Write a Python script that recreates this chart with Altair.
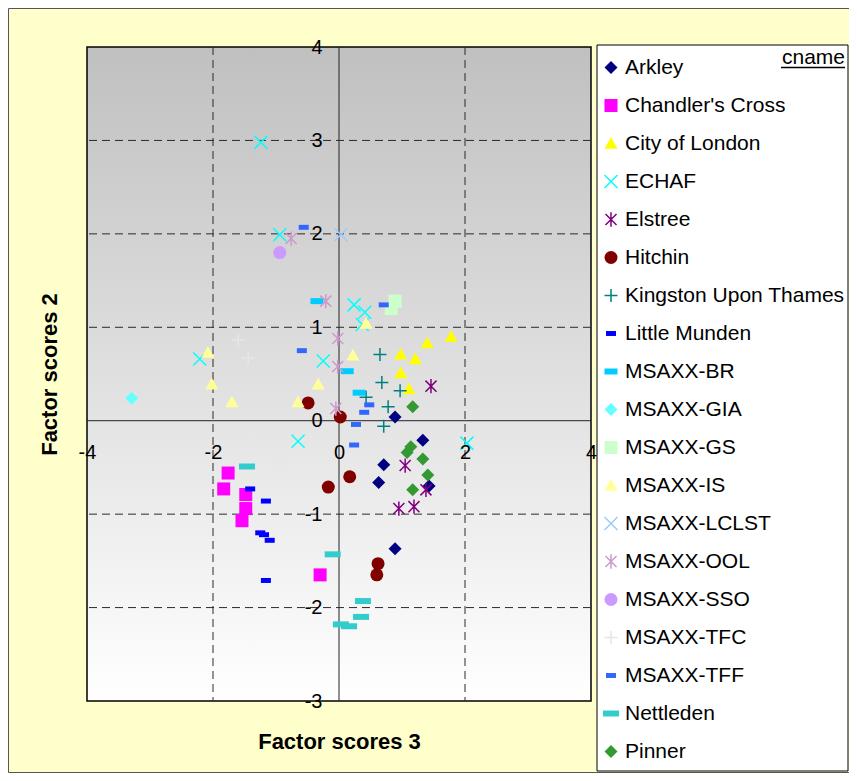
import altair as alt
import pandas as pd

# ---------------- data ----------------
series = ["Arkley", "Chandler's Cross", "City of London", "ECHAF", "Elstree",
          "Hitchin", "Kingston Upon Thames", "Little Munden", "MSAXX-BR",
          "MSAXX-GIA", "MSAXX-GS", "MSAXX-IS", "MSAXX-LCLST", "MSAXX-OOL",
          "MSAXX-SSO", "MSAXX-TFC", "MSAXX-TFF", "Nettleden", "Pinner"]

arkley_x = [0.89, 1.33, 0.71, 0.63, 1.43, 0.89]
arkley_y = [0.04, -0.21, -0.47, -0.66, -0.70, -1.37]
chandlers_x = [-1.76, -1.83, -1.48, -1.48, -1.54, -0.30]
chandlers_y = [-0.56, -0.73, -0.79, -0.94, -1.07, -1.65]
city_x = [1.78, 1.40, 0.98, 1.21, 0.98, 1.11]
city_y = [0.90, 0.83, 0.71, 0.66, 0.51, 0.34]
echaf_x = [-1.24, -0.94, -2.21, -0.25, 0.24, 0.41, 0.37, -0.65, 2.03]
echaf_y = [2.98, 1.99, 0.66, 0.64, 1.24, 1.16, 1.03, -0.22, -0.24]
elstree_x = [1.46, 1.05, 1.38, 0.95, 1.19]
elstree_y = [0.37, -0.48, -0.74, -0.94, -0.92]
hitchin_x = [-0.49, 0.02, -0.17, 0.17, 0.62, 0.60]
hitchin_y = [0.19, 0.04, -0.71, -0.60, -1.53, -1.65]
kingston_x = [0.65, 0.68, 0.97, 0.43, 0.78, 0.71]
kingston_y = [0.71, 0.41, 0.32, 0.25, 0.15, -0.06]
munden_x = [-1.41, -1.16, -1.25, -1.19, -1.10, -1.16]
munden_y = [-0.73, -0.86, -1.20, -1.22, -1.28, -1.71]
br_x = [-0.35, 0.13, 0.32]
br_y = [1.28, 0.53, 0.30]
gia_x = [-3.29]
gia_y = [0.24]
gs_x = [0.89, 0.83]
gs_y = [1.28, 1.20]
is_x = [-2.08, -2.02, -1.70, -0.65, -0.33, 0.22, 0.43]
is_y = [0.73, 0.39, 0.20, 0.20, 0.39, 0.70, 1.04]
lclst_x = [0.03]
lclst_y = [1.99]
ool_x = [-0.76, -0.21, -0.02, -0.02, -0.05]
ool_y = [1.95, 1.28, 0.88, 0.58, 0.13]
sso_x = [-0.94]
sso_y = [1.80]
tfc_x = [-1.60, -1.44, -0.94]
tfc_y = [0.86, 0.67, -0.45]
tff_x = [-0.56, -0.59, 0.71, 0.48, 0.40, 0.27, 0.24]
tff_y = [2.07, 0.75, 1.24, 0.17, 0.09, -0.04, -0.26]
nettleden_x = [-1.46, -0.10, 0.38, 0.35, 0.03, 0.16]
nettleden_y = [-0.49, -1.43, -1.93, -2.10, -2.18, -2.20]
pinner_x = [1.17, 1.14, 1.08, 1.33, 1.41, 1.17]
pinner_y = [0.15, -0.28, -0.34, -0.41, -0.58, -0.74]

x_ticks = [-4, -2, 0, 2, 4]
y_ticks = [-3, -2, -1, 0, 1, 2, 3, 4]

point_lists = [
    (arkley_x, arkley_y), (chandlers_x, chandlers_y), (city_x, city_y),
    (echaf_x, echaf_y), (elstree_x, elstree_y), (hitchin_x, hitchin_y),
    (kingston_x, kingston_y), (munden_x, munden_y), (br_x, br_y),
    (gia_x, gia_y), (gs_x, gs_y), (is_x, is_y), (lclst_x, lclst_y),
    (ool_x, ool_y), (sso_x, sso_y), (tfc_x, tfc_y), (tff_x, tff_y),
    (nettleden_x, nettleden_y), (pinner_x, pinner_y),
]
rows = []
for name, (xs_, ys_) in zip(series, point_lists):
    for a, b in zip(xs_, ys_):
        rows.append({"cname": name, "x": a, "y": b})
df = pd.DataFrame(rows)

# ---------------- style ----------------
FONT = "Liberation Sans"
X_PATH = "M-1,-1L1,1M-1,1L1,-1"
AST_PATH = "M-0.85,-0.85L0.85,0.85M-0.85,0.85L0.85,-0.85M0,-1.1L0,1.1"
PLUS_PATH = "M-1,0L1,0M0,-1L0,1"
TRI_PATH = "M0,-1L1,0.8L-1,0.8Z"
SMALL_DASH = "M-0.77,-0.38L0.77,-0.38L0.77,0.38L-0.77,0.38Z"
MID_DASH = "M-1,-0.46L1,-0.46L1,0.46L-1,0.46Z"
LONG_DASH = "M-1.23,-0.46L1.23,-0.46L1.23,0.46L-1.23,0.46Z"

colors = ["#000080", "#FF00FF", "#FFFF00", "#00FFFF", "#800080", "#800000",
          "#008080", "#0000FF", "#00CCFF", "#66FFFF", "#CCFFCC", "#FFFF99",
          "#99CCFF", "#CC99CC", "#CC99FF", "#E6E6E6", "#3366FF", "#33CCCC",
          "#339933"]
shapes = ["diamond", "square", TRI_PATH, X_PATH, AST_PATH, "circle",
          PLUS_PATH, SMALL_DASH, MID_DASH, "diamond", "square", TRI_PATH,
          X_PATH, AST_PATH, "circle", PLUS_PATH, SMALL_DASH, LONG_DASH,
          "diamond"]
open_shape = [s in (X_PATH, AST_PATH, PLUS_PATH) for s in shapes]
fills = ["transparent" if o else c for c, o in zip(colors, open_shape)]
strokes = [c if o else "transparent" for c, o in zip(colors, open_shape)]

W, H = 504, 654
xmin, xmax = x_ticks[0], x_ticks[-1]
ymin, ymax = y_ticks[0], y_ticks[-1]
xs = alt.Scale(domain=[xmin, xmax], nice=False, zero=False)
ys = alt.Scale(domain=[ymin, ymax], nice=False, zero=False)

x_offset = -H * (0 - ymin) / (ymax - ymin)
y_offset = -W * (0 - xmin) / (xmax - xmin)

x_axis = alt.Axis(values=x_ticks, orient="bottom", offset=x_offset, zindex=1,
                  domain=False, ticks=False, grid=False, tickSize=0,
                  labelExpr="'' + datum.value", labelFont=FONT,
                  labelFontSize=20, labelColor="black", labelPadding=22,
                  labelFlush=False, labelOverlap=False,
                  title="Factor scores 3", titleFont=FONT, titleFontSize=22,
                  titleFontWeight="bold", titleColor="black",
                  titleX=W / 2, titleY=328, titleBaseline="alphabetic",
                  titleAlign="center")
y_axis = alt.Axis(values=y_ticks, orient="left", offset=y_offset, zindex=1,
                  domain=False, ticks=False, grid=False, tickSize=0,
                  labelExpr="'' + datum.value", labelFont=FONT,
                  labelFontSize=20, labelColor="black", labelPadding=17,
                  labelFlush=False, labelOverlap=False,
                  title="Factor scores 2", titleFont=FONT, titleFontSize=22,
                  titleFontWeight="bold", titleColor="black",
                  titleX=-283, titleY=H / 2, titleAngle=270,
                  titleBaseline="alphabetic", titleAlign="center")

gradient = {"gradient": "linear", "x1": 0, "y1": 0, "x2": 0, "y2": 1,
            "stops": [{"offset": 0, "color": "#C0C0C0"},
                      {"offset": 1, "color": "#FFFFFF"}]}

frame_df = pd.DataFrame({"x0": [xmin], "x1": [xmax], "y0": [ymin], "y1": [ymax]})
bg = alt.Chart(frame_df).mark_rect(fill=gradient, stroke="black",
                                   strokeWidth=1.5).encode(
    x=alt.X("x0:Q", scale=xs, axis=x_axis), x2="x1",
    y=alt.Y("y0:Q", scale=ys, axis=y_axis), y2="y1")

grid_x = alt.Chart(pd.DataFrame({"x0": [v for v in x_ticks if v not in (xmin, xmax, 0)]})) \
    .mark_rule(color="#2a2a2a", strokeDash=[8, 5], strokeWidth=1) \
    .encode(x=alt.X("x0:Q", scale=xs, axis=x_axis))
grid_y = alt.Chart(pd.DataFrame({"y0": [v for v in y_ticks if v not in (ymin, ymax, 0)]})) \
    .mark_rule(color="#2a2a2a", strokeDash=[8, 5], strokeWidth=1) \
    .encode(y=alt.Y("y0:Q", scale=ys, axis=y_axis))
zero_x = alt.Chart(pd.DataFrame({"x0": [0]})).mark_rule(color="#222222", strokeWidth=1) \
    .encode(x=alt.X("x0:Q", scale=xs, axis=x_axis))
zero_y = alt.Chart(pd.DataFrame({"y0": [0]})).mark_rule(color="#222222", strokeWidth=1) \
    .encode(y=alt.Y("y0:Q", scale=ys, axis=y_axis))

one = pd.DataFrame({"t": ["cname"]})
legend_box = alt.Chart(one).mark_rect(fill="white", stroke="black", strokeWidth=1).encode(
    x=alt.value(510), x2=alt.value(761), y=alt.value(-2), y2=alt.value(724))
outer = alt.Chart(one).mark_rect(fill="transparent", stroke="#555555", strokeWidth=1).encode(
    x=alt.value(-78.5), x2=alt.value(800), y=alt.value(-38.5), y2=alt.value(725.5))
cname_text = alt.Chart(one).mark_text(align="right", baseline="alphabetic", font=FONT,
                                      fontSize=21, color="black").encode(
    text="t:N", x=alt.value(758), y=alt.value(17))
cname_line = alt.Chart(one).mark_rule(color="black", strokeWidth=1.5).encode(
    x=alt.value(694), x2=alt.value(758), y=alt.value(20.5))

leg = alt.Legend(title=None, orient="none", legendX=513.5, legendY=10,
                 padding=0, labelFont=FONT, labelFontSize=21, labelColor="black",
                 labelOffset=3.5, rowPadding=16, symbolSize=169,
                 symbolStrokeWidth=1.5, labelLimit=400)

pts = alt.Chart(df).mark_point(filled=True, opacity=1, size=169, strokeWidth=1.5).encode(
    x=alt.X("x:Q", scale=xs, axis=x_axis),
    y=alt.Y("y:Q", scale=ys, axis=y_axis),
    shape=alt.Shape("cname:N", scale=alt.Scale(domain=series, range=shapes), legend=leg),
    fill=alt.Fill("cname:N", scale=alt.Scale(domain=series, range=fills), legend=leg),
    stroke=alt.Stroke("cname:N", scale=alt.Scale(domain=series, range=strokes), legend=leg),
)

chart = alt.layer(bg, grid_x, grid_y, zero_x, zero_y, outer, legend_box,
                  cname_text, cname_line, pts).properties(
    width=W, height=H,
    autosize=alt.AutoSizeParams(type="none"),
    padding={"left": 79, "top": 39, "right": 258, "bottom": 72},
    background="#FFFFCC",
).configure_view(stroke=None)

chart.save("out.html", embed_options={"renderer": "svg", "actions": False})
